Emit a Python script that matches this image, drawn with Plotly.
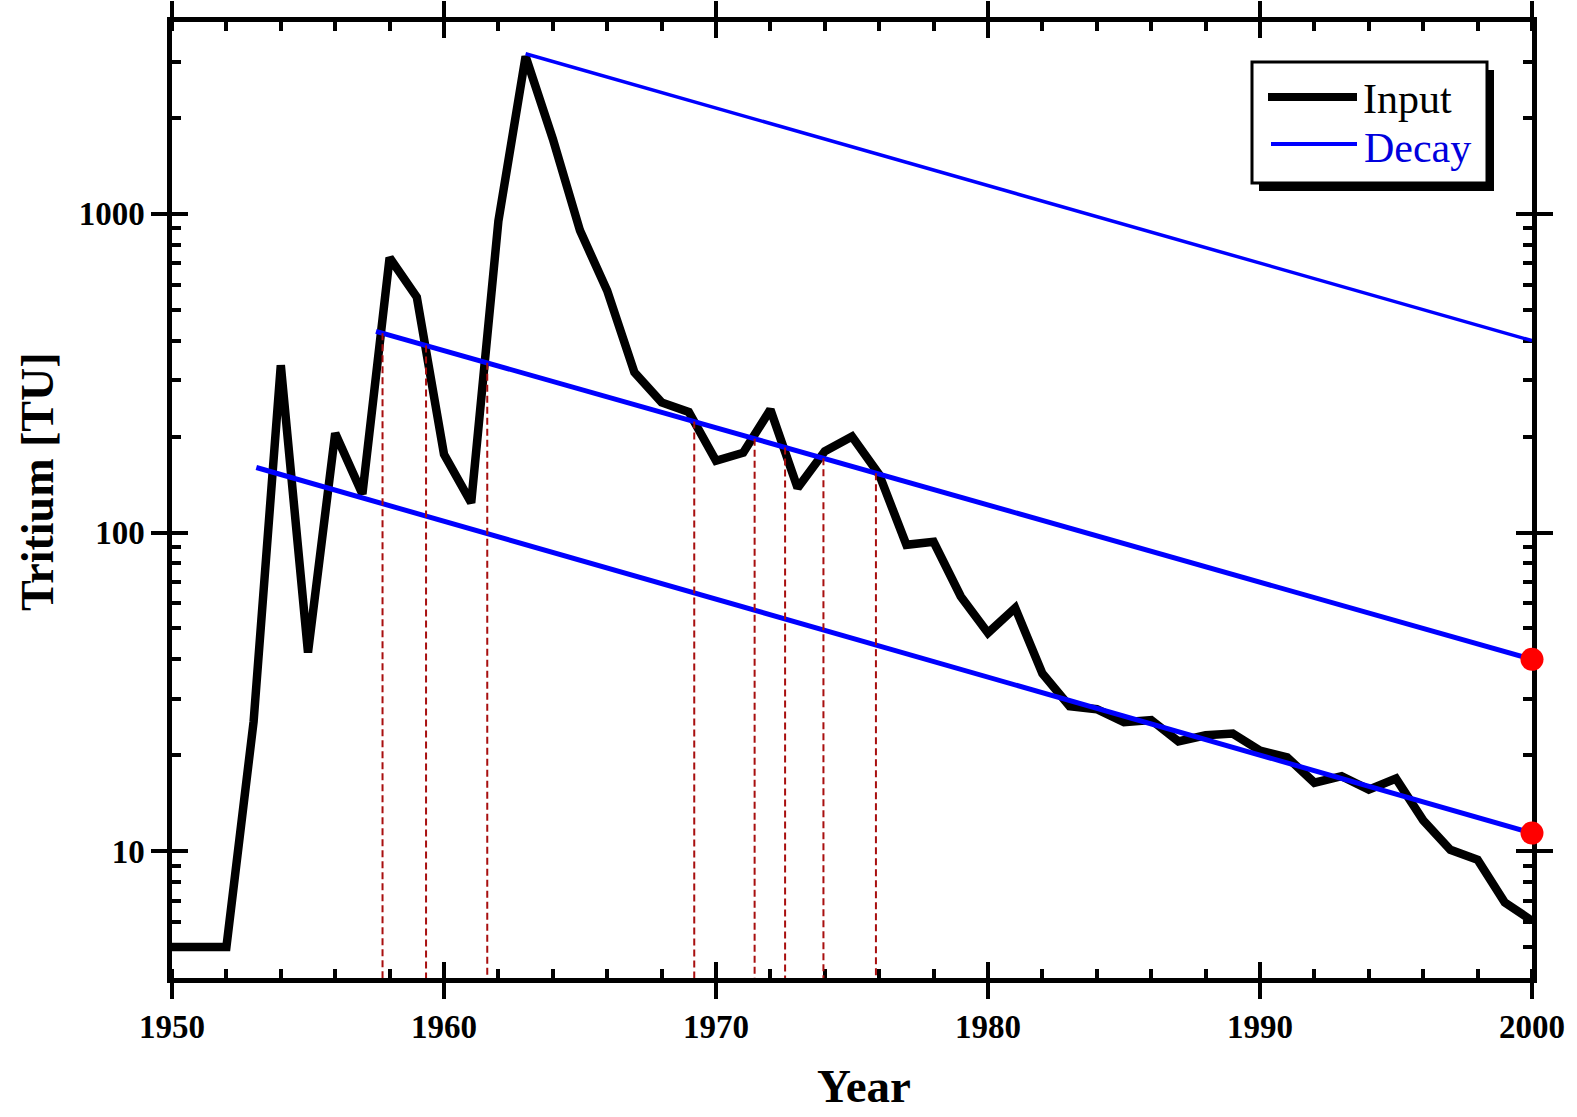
import numpy as np
import plotly.graph_objects as go

# ---------------------------------------------------------------- data
years = list(range(1950, 2001))
tritium_input = [
    5, 5, 5, 25.5, 335, 42, 205, 132, 728, 548,          # 1950-1959
    176, 124, 950, 3120, 1720, 886, 574, 318, 256, 239,  # 1960-1969
    168, 178, 243, 138, 180, 200, 152, 91.5, 93.5, 63,   # 1970-1979
    48.4, 58, 36.1, 28.5, 27.9, 25.4, 25.8, 22.1, 23.1, 23.4,  # 1980-1989
    20.7, 19.7, 16.4, 17.2, 15.6, 16.9, 12.5, 10.1, 9.4, 6.9,  # 1990-1999
    6.05,                                                 # 2000
]

# radioactive decay lines (start -> end)
decay_start_year = [1963.0, 1957.5, 1953.1]
decay_start_value = [3180, 428, 160]
decay_end_year = [2000.0, 2000.0, 2000.0]
decay_end_value = [400, 40, 11.4]

# years where the input curve crosses the middle decay line
crossing_years = [1957.74, 1959.34, 1961.59, 1969.20, 1971.42, 1972.54, 1973.95, 1975.88]

x_tick_vals = [1950, 1960, 1970, 1980, 1990, 2000]
y_tick_vals = [10, 100, 1000]
y_tick_text = ["10", "100", "1000"]
y_minor_vals = [5, 6, 7, 8, 9, 20, 30, 40, 50, 60, 70, 80, 90,
                200, 300, 400, 500, 600, 700, 800, 900, 2000, 3000]

Y_MIN, Y_MAX = 4, 4000
X_MIN, X_MAX = 1950, 2000

# ---------------------------------------------------------------- layout geometry
W, H = 1577, 1117
L, R, T, B = 172, 1532, 22, 978
FONT = "Liberation Serif"


def px_x(p):
    return (p - L) / (R - L)


def px_y(p):
    return (B - p) / (B - T)


def decay_value(i, yr):
    """Value of decay line i at year yr (straight line in log space)."""
    t = (yr - decay_start_year[i]) / (decay_end_year[i] - decay_start_year[i])
    lo, hi = np.log10(decay_start_value[i]), np.log10(decay_end_value[i])
    return 10 ** (lo + t * (hi - lo))


fig = go.Figure()

# input function
fig.add_trace(go.Scatter(
    x=years, y=tritium_input, mode="lines",
    line=dict(color="black", width=8.5),
    showlegend=False, hoverinfo="skip",
))

# decay lines
for i, w in enumerate([3.5, 5, 5]):
    fig.add_trace(go.Scatter(
        x=[decay_start_year[i], decay_end_year[i]],
        y=[decay_start_value[i], decay_end_value[i]],
        mode="lines", line=dict(color="#0000FF", width=w),
        showlegend=False, hoverinfo="skip",
    ))

# dashed drop lines from the middle decay line to the axis
dx, dy = [], []
for yr in crossing_years:
    dx += [yr, yr, None]
    dy += [decay_value(1, yr), Y_MIN, None]
fig.add_trace(go.Scatter(
    x=dx, y=dy, mode="lines",
    line=dict(color="#A80F0F", width=2, dash="7px,4px"),
    showlegend=False, hoverinfo="skip",
))

# end points of the two lower decay lines
fig.add_trace(go.Scatter(
    x=decay_end_year[1:], y=decay_end_value[1:], mode="markers",
    marker=dict(color="#FF0000", size=23, line=dict(width=0)),
    cliponaxis=False, showlegend=False, hoverinfo="skip",
))

# carrier for the inner-tick overlay axes
fig.add_trace(go.Scatter(x=[None], y=[None], xaxis="x2", yaxis="y2",
                         showlegend=False, hoverinfo="skip"))

tick_font = dict(family=FONT, size=33, color="black", weight="bold")
common = dict(showgrid=False, zeroline=False, tickcolor="black", automargin=False)

fig.update_layout(
    template="none",
    width=W, height=H, autosize=False,
    margin=dict(l=L, r=W - R, t=T, b=H - B, pad=0),
    paper_bgcolor="white", plot_bgcolor="white",
    xaxis=dict(
        range=[X_MIN, X_MAX], tickmode="array", tickvals=x_tick_vals,
        ticks="outside", ticklen=16, tickwidth=4,
        showline=True, linewidth=4.5, linecolor="black", mirror="ticks",
        tickfont=tick_font, layer="below traces",
        minor=dict(tickmode="linear", tick0=1950, dtick=2, ticks="inside",
                   ticklen=9, tickwidth=3.5, tickcolor="black", showgrid=False),
        **common,
    ),
    xaxis2=dict(
        overlaying="x", anchor="y2", side="bottom",
        range=[X_MIN, X_MAX], tickmode="array", tickvals=x_tick_vals,
        ticks="inside", ticklen=16, tickwidth=4, mirror="ticks",
        showline=False, showticklabels=False, layer="below traces",
        **common,
    ),
    yaxis=dict(
        type="log", range=[np.log10(Y_MIN), np.log10(Y_MAX)],
        tickmode="array", tickvals=y_tick_vals, ticktext=y_tick_text,
        ticks="outside", ticklen=16, tickwidth=4,
        showline=True, linewidth=4.5, linecolor="black", mirror="ticks",
        tickfont=tick_font, layer="below traces",
        minor=dict(tickmode="array", tickvals=y_minor_vals, ticks="inside",
                   ticklen=9, tickwidth=3.5, tickcolor="black", showgrid=False),
        **common,
    ),
    yaxis2=dict(
        overlaying="y", anchor="x2", side="left",
        type="log", range=[np.log10(Y_MIN), np.log10(Y_MAX)],
        tickmode="array", tickvals=y_tick_vals,
        ticks="inside", ticklen=16, tickwidth=4, mirror="ticks",
        showline=False, showticklabels=False, layer="below traces",
        **common,
    ),
)

# axis titles
fig.add_annotation(
    text="Year", xref="paper", yref="paper", x=px_x(864), y=px_y(1086),
    xanchor="center", yanchor="middle", showarrow=False,
    font=dict(family=FONT, size=47, color="black", weight="bold"),
)
fig.add_annotation(
    text="Tritium [TU]", xref="paper", yref="paper", x=px_x(37), y=px_y(482),
    xanchor="center", yanchor="middle", textangle=-90, showarrow=False,
    font=dict(family=FONT, size=46, color="black", weight="bold"),
)

# legend box with drop shadow
bx0, by0, bx1, by1 = 1252, 62, 1487, 183
fig.add_shape(type="rect", xref="paper", yref="paper",
              x0=px_x(bx0 + 7), x1=px_x(bx1 + 7), y0=px_y(by0 + 8), y1=px_y(by1 + 8),
              fillcolor="black", line=dict(width=0), layer="above")
fig.add_shape(type="rect", xref="paper", yref="paper",
              x0=px_x(bx0), x1=px_x(bx1), y0=px_y(by0), y1=px_y(by1),
              fillcolor="white", line=dict(color="black", width=3), layer="above")
fig.add_shape(type="line", xref="paper", yref="paper",
              x0=px_x(1268), x1=px_x(1357), y0=px_y(97), y1=px_y(97),
              line=dict(color="black", width=8), layer="above")
fig.add_shape(type="line", xref="paper", yref="paper",
              x0=px_x(1271), x1=px_x(1357), y0=px_y(144), y1=px_y(144),
              line=dict(color="#0000FF", width=4), layer="above")
fig.add_annotation(
    text="Input", xref="paper", yref="paper", x=px_x(1361), y=px_y(99),
    xanchor="left", yanchor="middle", showarrow=False,
    font=dict(family=FONT, size=42, color="black"),
)
fig.add_annotation(
    text="Decay", xref="paper", yref="paper", x=px_x(1362), y=px_y(148),
    xanchor="left", yanchor="middle", showarrow=False,
    font=dict(family=FONT, size=42, color="#0000DD"),
)

fig.write_html("out.html")
